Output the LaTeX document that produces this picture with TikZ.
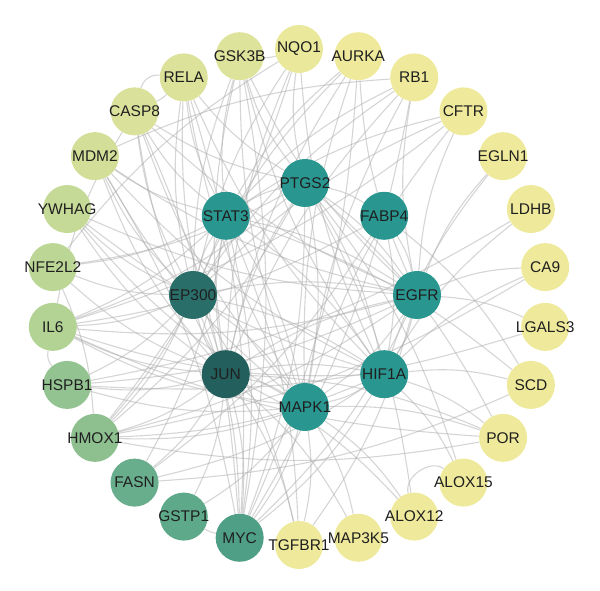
\documentclass[tikz,border=0pt]{standalone}
\usepackage{fontspec}
\setmainfont{Liberation Sans}
\usepackage{tikz}
\usetikzlibrary{positioning, calc}
\pgfdeclarelayer{background}
\pgfsetlayers{background,main}

\definecolor{hubteal}{HTML}{2A9690}
\definecolor{hubdark}{HTML}{2A6E6A}
\definecolor{hubdeep}{HTML}{235F5C}
\definecolor{cyel}{HTML}{EFEA9B}
\definecolor{cnqo}{HTML}{E9E89B}
\definecolor{cgsk}{HTML}{DDE39B}
\definecolor{crela}{HTML}{DCE29A}
\definecolor{ccasp}{HTML}{D9E19A}
\definecolor{cmdm}{HTML}{D3DF98}
\definecolor{cywh}{HTML}{C6DA97}
\definecolor{cnfe}{HTML}{BCD696}
\definecolor{cil}{HTML}{B3D395}
\definecolor{chsp}{HTML}{94C392}
\definecolor{chmo}{HTML}{8DBF8F}
\definecolor{cfas}{HTML}{69AE8C}
\definecolor{cgst}{HTML}{5DA98A}
\definecolor{cmyc}{HTML}{4F9F87}

\begin{document}
\begin{tikzpicture}[x=1pt, y=1pt,
    gene/.style={circle, minimum size=48pt, inner sep=0pt, text=black!88,
                 font=\fontsize{15.5}{18}\selectfont},
    link/.style={draw=gray!65, line width=1.1pt, opacity=0.5}]
    \useasboundingbox (0,0) rectangle (600,591);

    % outer ring
    \foreach \name/\col [count=\i from 0] in {NQO1/cnqo, AURKA/cyel, RB1/cyel, CFTR/cyel,
        EGLN1/cyel, LDHB/cyel, CA9/cyel, LGALS3/cyel, SCD/cyel, POR/cyel, ALOX15/cyel,
        ALOX12/cyel, MAP3K5/cyel, TGFBR1/cyel, MYC/cmyc, GSTP1/cgst, FASN/cfas, HMOX1/chmo,
        HSPB1/chsp, IL6/cil, NFE2L2/cnfe, YWHAG/cywh, MDM2/cmdm, CASP8/ccasp, RELA/crela,
        GSK3B/cgsk}
        \node[gene, fill=\col] (\name) at ($(299,294)+({90-\i*360/26}:248)$)
            {\makebox[0pt]{\name}};

    % inner ring
    \foreach \name/\col [count=\i from 0] in {PTGS2/hubteal, FABP4/hubteal, EGFR/hubteal,
        HIF1A/hubteal, MAPK1/hubteal, JUN/hubdeep, EP300/hubdark, STAT3/hubteal}
        \node[gene, fill=\col] (\name) at ($(305,296)+({90-\i*45}:112)$)
            {\makebox[0pt]{\name}};

    \begin{pgfonlayer}{background}
    % hub edges
    \foreach \a/\b in {JUN/STAT3, JUN/EP300, JUN/MAPK1, JUN/HIF1A, JUN/EGFR, JUN/PTGS2,
        JUN/MYC, JUN/TGFBR1, JUN/MAP3K5, JUN/GSTP1, JUN/HMOX1, JUN/IL6, JUN/NFE2L2,
        JUN/RELA, JUN/CASP8, JUN/GSK3B, JUN/MDM2, JUN/YWHAG, JUN/HSPB1, JUN/FASN,
        JUN/RB1, JUN/AURKA, JUN/NQO1, JUN/POR, JUN/ALOX12,
        EP300/STAT3, EP300/HIF1A, EP300/MAPK1, EP300/EGFR, EP300/MYC, EP300/RELA,
        EP300/MDM2, EP300/YWHAG, EP300/NFE2L2, EP300/IL6, EP300/HSPB1, EP300/HMOX1,
        EP300/RB1, EP300/AURKA, EP300/GSK3B, EP300/CASP8, EP300/CFTR, EP300/NQO1,
        EP300/TGFBR1,
        STAT3/PTGS2, STAT3/EGFR, STAT3/HIF1A, STAT3/MAPK1, STAT3/MYC, STAT3/IL6,
        STAT3/RELA, STAT3/GSK3B, STAT3/HMOX1, STAT3/NFE2L2, STAT3/FASN, STAT3/CASP8,
        STAT3/MDM2, STAT3/AURKA, STAT3/RB1, STAT3/CFTR, STAT3/TGFBR1, STAT3/SCD,
        PTGS2/EGFR, PTGS2/HIF1A, PTGS2/MAPK1, PTGS2/IL6, PTGS2/RELA, PTGS2/HMOX1,
        PTGS2/NFE2L2, PTGS2/CASP8, PTGS2/GSK3B, PTGS2/FABP4, PTGS2/ALOX15,
        PTGS2/ALOX12, PTGS2/POR, PTGS2/MYC, PTGS2/NQO1,
        FABP4/EGFR, FABP4/HIF1A, FABP4/FASN, FABP4/IL6, FABP4/SCD,
        EGFR/HIF1A, EGFR/MAPK1, EGFR/GSK3B, EGFR/RB1, EGFR/AURKA, EGFR/CFTR,
        EGFR/EGLN1, EGFR/CA9, EGFR/LGALS3, EGFR/IL6, EGFR/HSPB1, EGFR/HMOX1,
        EGFR/MYC, EGFR/CASP8, EGFR/TGFBR1, EGFR/MDM2, EGFR/YWHAG,
        HIF1A/MAPK1, HIF1A/EGLN1, HIF1A/CA9, HIF1A/LDHB, HIF1A/SCD, HIF1A/POR,
        HIF1A/ALOX15, HIF1A/MYC, HIF1A/IL6, HIF1A/HMOX1, HIF1A/NQO1, HIF1A/GSK3B,
        HIF1A/RELA, HIF1A/YWHAG, HIF1A/MDM2, HIF1A/FASN,
        MAPK1/MYC, MAPK1/MAP3K5, MAPK1/ALOX12, MAPK1/POR, MAPK1/IL6, MAPK1/HSPB1,
        MAPK1/HMOX1, MAPK1/GSTP1, MAPK1/RELA, MAPK1/CASP8, MAPK1/GSK3B, MAPK1/YWHAG,
        MAPK1/TGFBR1, MAPK1/RB1, MAPK1/AURKA, MAPK1/CFTR, MAPK1/MDM2}
        \draw[link] (\a) to[bend left=10] (\b);

    % outer edges
    \foreach \a/\b in {RELA/CASP8, NQO1/GSK3B, NQO1/HMOX1, NFE2L2/HMOX1, NFE2L2/NQO1,
        MYC/GSTP1, MDM2/RB1, MDM2/MYC, GSK3B/MYC, AURKA/MYC, IL6/CASP8, POR/HMOX1,
        SCD/FASN, RB1/MYC, CFTR/IL6, LGALS3/HSPB1, RELA/MYC, CASP8/MYC, POR/IL6,
        CA9/HMOX1, LDHB/HSPB1}
        \draw[link] (\a) to[bend left=10] (\b);
    \draw[link] (IL6) to[bend right=25] (HSPB1);
    \draw[link] (RELA) to[bend right=40] (CASP8);
    \draw[link] (ALOX12) to[bend left=70] (ALOX15);
    \end{pgfonlayer}
\end{tikzpicture}
\end{document}
